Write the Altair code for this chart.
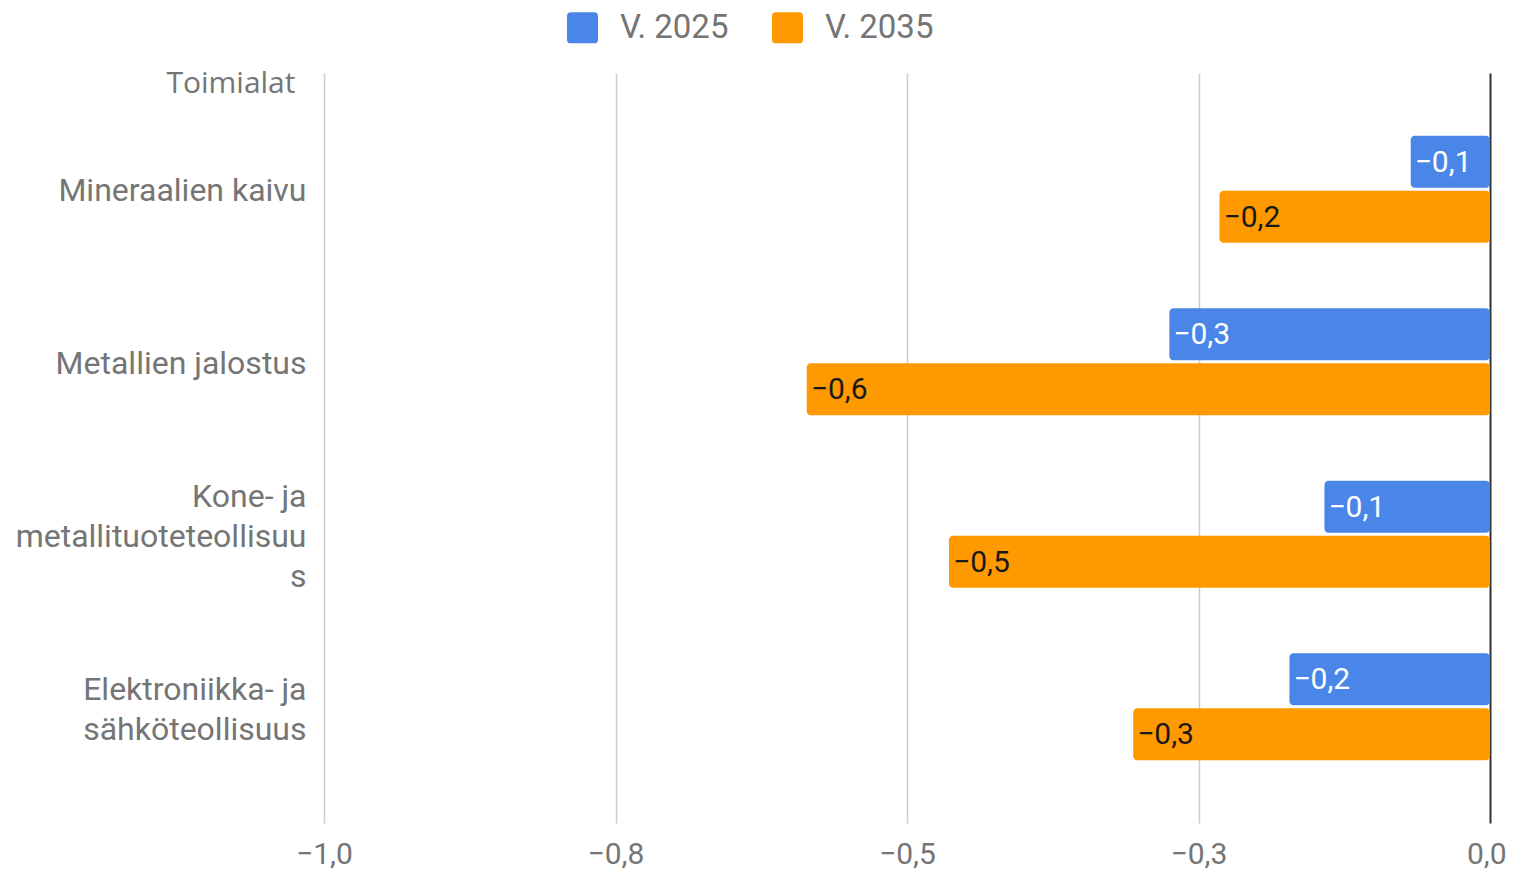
import altair as alt
import pandas as pd

categories = [
    "Mineraalien kaivu",
    "Metallien jalostus",
    "Kone- ja|metallituoteteollisuu|s",
    "Elektroniikka- ja|sähköteollisuus",
]
series_names = ["V. 2025", "V. 2035"]
v2025 = [-0.068, -0.275, -0.142, -0.172]
v2035 = [-0.232, -0.586, -0.464, -0.306]
x_ticks = [-1.0, -0.75, -0.5, -0.25, 0.0]
colors = ["#4a86e8", "#ff9900"]

rows = []
for c, a, b in zip(categories, v2025, v2035):
    rows.append({"category": c, "series": series_names[0], "value": a})
    rows.append({"category": c, "series": series_names[1], "value": b})
df = pd.DataFrame(rows)

gray = "#757575"
rounded_square = ("M -0.75,-1 L 0.75,-1 Q 1,-1 1,-0.75 L 1,0.75 Q 1,1 0.75,1 "
                  "L -0.75,1 Q -1,1 -1,0.75 L -1,-0.75 Q -1,-1 -0.75,-1 Z")

label_offset = {
    "condition": [
        {"test": "length(split(datum.value, '|')) == 3", "value": -37},
        {"test": "length(split(datum.value, '|')) == 2", "value": -17},
    ],
    "value": 2,
}

y_enc = alt.Y(
    "category:N",
    sort=categories,
    scale=alt.Scale(paddingInner=0.38, paddingOuter=0.364),
    axis=alt.Axis(
        title="Toimialat",
        titleFont="Open Sans",
        titleFontSize=30,
        titleFontWeight="normal",
        titleColor=gray,
        titleAngle=0,
        titleAlign="right",
        titleBaseline="alphabetic",
        titleX=-29,
        titleY=19,
        labelExpr="split(datum.label, '|')",
        labelFont="Roboto",
        labelFontSize=32,
        labelColor=gray,
        labelLineHeight=40,
        labelPadding=18,
        labelOffset=label_offset,
        ticks=False,
        domain=False,
        grid=False,
        labelLimit=400,
    ),
)
yoff = alt.YOffset("series:N", sort=series_names,
                   scale=alt.Scale(paddingInner=0.055, paddingOuter=0))

x_enc = alt.X(
    "value:Q",
    scale=alt.Scale(domain=[-1.0, 0.0], nice=False),
    axis=alt.Axis(
        title=None,
        values=x_ticks,
        labelExpr="replace(format(datum.value, '.1f'), '.', ',')",
        labelFont="Roboto",
        labelFontSize=30,
        labelColor=gray,
        labelPadding=16,
        labelFlush=False,
        labelAlign=alt.condition("datum.value === 0", alt.value("right"), alt.value("center")),
        labelOffset=alt.condition("datum.value === 0", alt.value(16), alt.value(0)),
        ticks=False,
        domain=False,
        grid=True,
        gridColor=alt.condition("datum.value === 0", alt.value("#333333"), alt.value("#cccccc")),
        gridWidth=alt.condition("datum.value === 0", alt.value(2), alt.value(1.5)),
        labelOverlap=False,
    ),
)

bars = alt.Chart(df).mark_bar(cornerRadius=4).encode(
    x=x_enc,
    x2=alt.datum(0),
    y=y_enc,
    yOffset=yoff,
    color=alt.Color(
        "series:N",
        sort=series_names,
        scale=alt.Scale(domain=series_names, range=colors),
        legend=alt.Legend(
            title=None,
            orient="none",
            direction="horizontal",
            legendX=242,
            legendY=-62,
            symbolType=rounded_square,
            symbolSize=961,
            symbolStrokeWidth=0,
            symbolOpacity=1,
            labelFont="Roboto",
            labelFontSize=33,
            labelColor=gray,
            labelOffset=21,
            columnPadding=42,
            padding=0,
        ),
    ),
)

labels = alt.Chart(df).transform_calculate(
    lbl="replace(format(datum.value, '.1f'), '.', ',')"
).mark_text(
    align="left", baseline="middle", dx=4, dy=1, font="Roboto", fontSize=30
).encode(
    x=alt.X("value:Q"),
    y=alt.Y("category:N", sort=categories),
    yOffset=alt.YOffset("series:N", sort=series_names),
    text="lbl:N",
    color=alt.condition(f"datum.series == '{series_names[0]}'", alt.value("white"), alt.value("#1a1a1a")),
)

chart = alt.layer(bars, labels).properties(
    width=1166,
    height=750,
    autosize=alt.AutoSizeParams(type="none"),
    padding={"left": 316, "top": 65, "right": 16, "bottom": 46},
    background="white",
).configure_view(stroke=None)

chart.save("out.html", embed_options={"renderer": "svg", "actions": False})
